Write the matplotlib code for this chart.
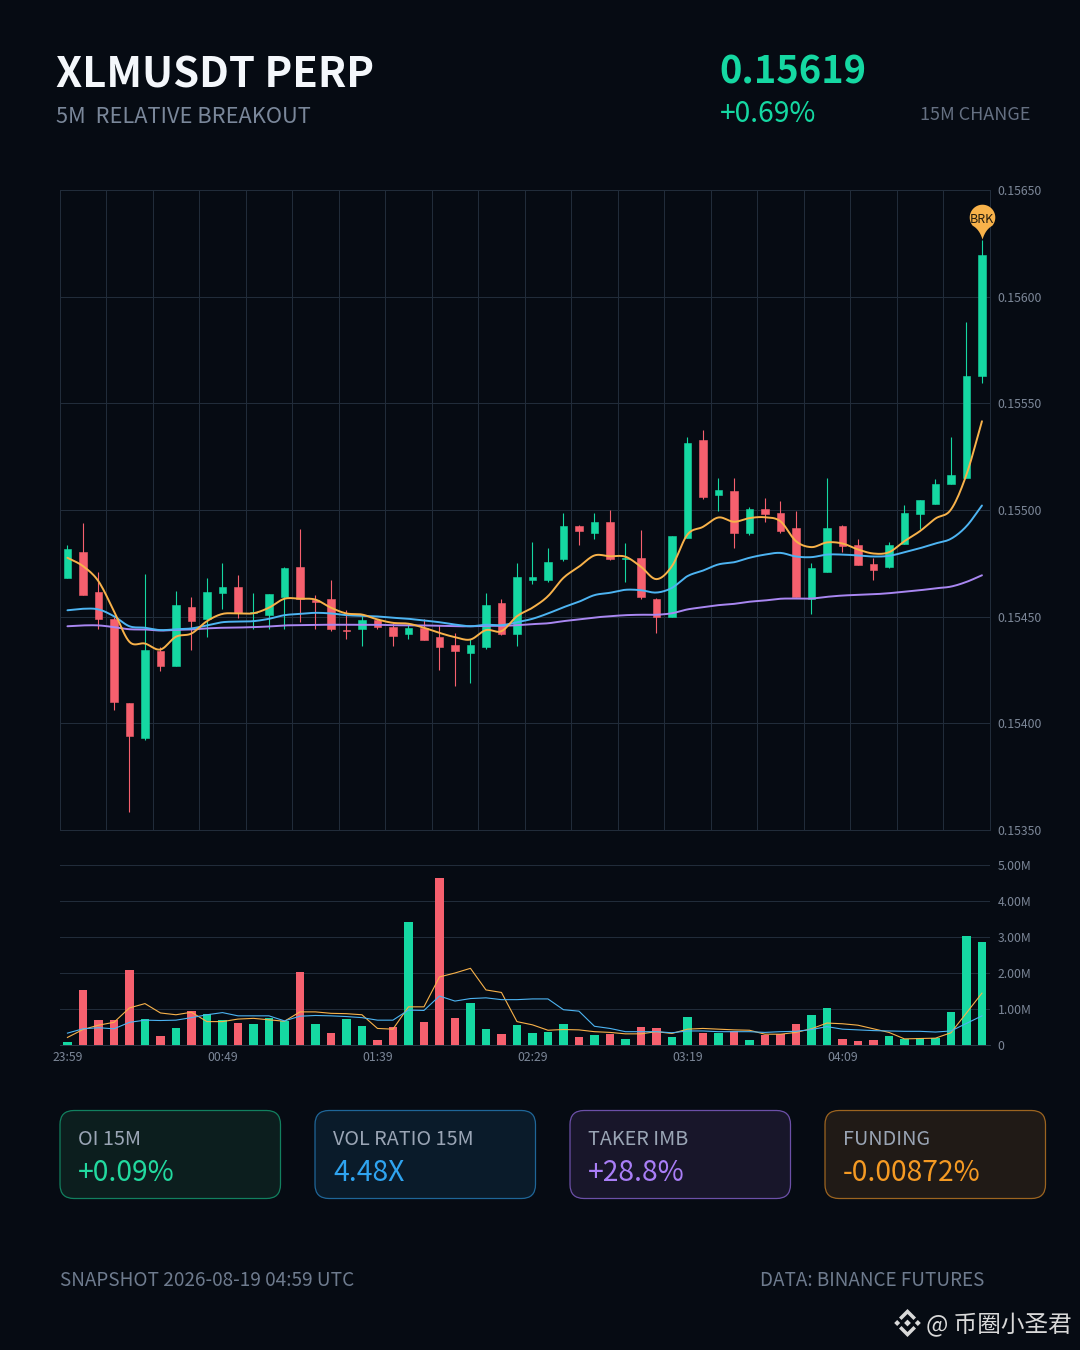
import numpy as np
import matplotlib
matplotlib.use("Agg")
import matplotlib.pyplot as plt
from matplotlib.patches import FancyBboxPatch, Polygon
from matplotlib.path import Path

plt.rcParams['font.family'] = ['Noto Sans CJK SC', 'DejaVu Sans']

# --- data (prices in units of 1e-5, volume in millions) ---
time_labels = ["23:59", "00:49", "01:39", "02:29", "03:19", "04:09"]
price_ticks = [0.1535, 0.1540, 0.1545, 0.1550, 0.1555, 0.1560, 0.1565]
vol_ticks = [0, 1, 2, 3, 4, 5]
vol_tick_labels = ["0", "1.00M", "2.00M", "3.00M", "4.00M", "5.00M"]

opens = [15468, 15480.5, 15461.5, 15448.7, 15409.6, 15393, 15433.7, 15427, 15454.6, 15449,
         15461, 15463.7, 15451.5, 15451, 15459, 15473.5, 15458, 15458.5, 15443.8, 15444,
         15448.5, 15445, 15442, 15444.5, 15440.4, 15436.5, 15433, 15436, 15456.6, 15442,
         15467, 15467, 15476.8, 15492.6, 15489, 15494.6, 15476.8, 15477.6, 15458.5, 15450,
         15487.1, 15532.6, 15506.8, 15508.7, 15489, 15500.6, 15498.5, 15491.5, 15458.2, 15471,
         15492.6, 15483.4, 15474.5, 15473.2, 15484.2, 15498, 15503, 15512.1, 15515.1, 15563]
highs = [15483.4, 15494, 15471, 15450, 15409.6, 15470, 15436, 15462, 15459.3, 15468,
         15475, 15469.3, 15461.2, 15460.8, 15473.4, 15491.2, 15460.2, 15467.3, 15453.2, 15450.2,
         15449, 15447, 15446.5, 15449, 15446.2, 15442.2, 15439.3, 15461.3, 15458.4, 15475,
         15485.2, 15482.3, 15498.4, 15493, 15498.4, 15500.2, 15484.3, 15490.4, 15458.6, 15487.6,
         15534.3, 15537.3, 15515.2, 15515.2, 15501.2, 15505.4, 15504.3, 15499.3, 15475, 15515.2,
         15493, 15486.2, 15477.3, 15485.2, 15502.2, 15504.5, 15514.3, 15534.3, 15588.2, 15626.5]
lows = [15468, 15460, 15444, 15406.3, 15358.3, 15392.3, 15424.4, 15427, 15434.3, 15440.4,
        15453.4, 15449.3, 15444, 15444, 15444, 15447.4, 15444, 15443.2, 15439.3, 15436.3,
        15444, 15436.3, 15439.3, 15439, 15425.2, 15417.3, 15419, 15435, 15441.3, 15436.2,
        15465.2, 15466.2, 15476.2, 15483.4, 15486.2, 15476.5, 15466.2, 15458.2, 15442.2, 15450,
        15487, 15505.3, 15499.3, 15482.3, 15488.2, 15494.3, 15489, 15459, 15451.2, 15471,
        15480.2, 15474, 15467.1, 15473, 15484, 15491.3, 15503, 15512, 15515, 15559.3]
closes = [15481.5, 15460, 15449, 15410, 15394, 15434.5, 15427, 15455.6, 15448, 15461.5,
          15463.7, 15451.8, 15452.4, 15460.5, 15472.6, 15458.4, 15457, 15444, 15443.2, 15448.5,
          15445, 15441, 15444.5, 15439, 15436, 15434, 15436.5, 15455.6, 15442, 15468.5,
          15468.5, 15475.5, 15492.6, 15490, 15494.6, 15476.8, 15477.4, 15459, 15450, 15487.6,
          15531.5, 15506, 15509.6, 15489, 15500.6, 15497.9, 15490, 15459, 15472.6, 15491.7,
          15482.9, 15474.1, 15472.1, 15483.4, 15498.4, 15504.5, 15512.4, 15516.5, 15562.6, 15619.6]

ma_fast = [15477.6, 15473.7, 15466.6, 15452.6, 15438.2, 15437.4, 15434.6, 15440.6, 15442.1, 15447.9,
           15451.3, 15451.5, 15451.6, 15454.2, 15458.4, 15458.4, 15458, 15454.2, 15451.5, 15451,
           15448.7, 15447.1, 15446.7, 15444.8, 15442.4, 15440.4, 15439.3, 15443.7, 15443.2, 15450.2,
           15454.2, 15459.6, 15468.2, 15473.4, 15478.7, 15478.3, 15478.1, 15473.4, 15467.6, 15473.7,
           15488.5, 15492.1, 15496.5, 15494.5, 15496.2, 15496.6, 15494.7, 15485.4, 15482.6, 15484.8,
           15484.3, 15481.5, 15479.6, 15480.2, 15485.4, 15490.1, 15496, 15500.2, 15516.6, 15541.6]
ma_mid = [15453, 15453.7, 15453.4, 15450.2, 15445.5, 15444.8, 15443.7, 15444.1, 15444.5, 15445.9,
          15447.4, 15447.7, 15447.9, 15449, 15450.7, 15451.3, 15451.8, 15451.5, 15450.7, 15450.4,
          15450.1, 15449.5, 15449, 15448.2, 15447.4, 15446.3, 15445.5, 15446.2, 15446, 15447.4,
          15449, 15451.5, 15454.4, 15457, 15460.1, 15461.2, 15462.6, 15462.4, 15461.3, 15463.5,
          15469, 15471.6, 15474.5, 15475.5, 15477.6, 15479.1, 15479.9, 15478.2, 15477.9, 15479.1,
          15479.1, 15478.7, 15478.2, 15478.5, 15480.2, 15482.1, 15484.3, 15486.5, 15492.4, 15502.1]
ma_slow = [15445.5, 15445.9, 15445.9, 15445.1, 15444.1, 15444, 15443.5, 15443.8, 15444, 15444.5,
           15444.8, 15444.9, 15445.1, 15445.4, 15445.9, 15446, 15446.2, 15446.2, 15446.2, 15446.2,
           15446.2, 15446, 15446, 15445.9, 15445.7, 15445.5, 15445.5, 15445.7, 15445.7, 15446,
           15446.5, 15446.9, 15447.9, 15448.7, 15449.6, 15450.2, 15450.7, 15450.9, 15450.9, 15451.6,
           15453.4, 15454.4, 15455.4, 15456, 15457, 15457.6, 15458.4, 15458.5, 15458.5, 15459.3,
           15459.9, 15460.2, 15460.5, 15461, 15461.7, 15462.4, 15463.3, 15464.1, 15466.3, 15469.4]

volumes = [0.09, 1.53, 0.69, 0.69, 2.08, 0.73, 0.24, 0.46, 0.95, 0.87,
           0.69, 0.61, 0.57, 0.74, 0.67, 2.02, 0.59, 0.34, 0.71, 0.53,
           0.15, 0.50, 3.41, 0.64, 4.64, 0.76, 1.17, 0.44, 0.31, 0.56,
           0.34, 0.37, 0.57, 0.23, 0.29, 0.31, 0.18, 0.49, 0.47, 0.22,
           0.78, 0.34, 0.32, 0.40, 0.15, 0.29, 0.31, 0.58, 0.84, 1.03,
           0.17, 0.12, 0.13, 0.26, 0.18, 0.20, 0.20, 0.92, 3.02, 2.87]
vol_up = "GRRRRGRGRGGRGGGRGRGGRRGRRRGGRGGGGRGRGRRGGRGRGRRRGGRRRGGGGGGG"
vol_ma_fast = [0.21, 0.43, 0.55, 0.63, 1.03, 1.15, 0.89, 0.84, 0.91, 0.65,
               0.65, 0.72, 0.74, 0.70, 0.66, 0.92, 0.92, 0.88, 0.87, 0.84,
               0.46, 0.44, 1.06, 1.06, 1.89, 2.00, 2.13, 1.53, 1.46, 0.65,
               0.56, 0.41, 0.43, 0.42, 0.37, 0.35, 0.31, 0.31, 0.37, 0.32,
               0.44, 0.46, 0.44, 0.42, 0.41, 0.30, 0.30, 0.35, 0.45, 0.61,
               0.59, 0.55, 0.45, 0.35, 0.17, 0.18, 0.19, 0.34, 0.89, 1.44]
vol_ma_slow = [0.33, 0.45, 0.48, 0.45, 0.63, 0.69, 0.68, 0.69, 0.76, 0.84,
               0.90, 0.81, 0.81, 0.81, 0.67, 0.80, 0.82, 0.81, 0.79, 0.76,
               0.69, 0.69, 0.97, 0.96, 1.36, 1.22, 1.29, 1.31, 1.26, 1.26,
               1.28, 1.28, 0.98, 0.94, 0.52, 0.46, 0.37, 0.37, 0.37, 0.34,
               0.39, 0.39, 0.37, 0.37, 0.37, 0.35, 0.37, 0.38, 0.43, 0.51,
               0.44, 0.42, 0.40, 0.39, 0.38, 0.38, 0.36, 0.39, 0.60, 0.81]

stat_labels = ["OI 15M", "VOL RATIO 15M", "TAKER IMB", "FUNDING"]
stat_values = ["+0.09%", "4.48X", "+28.8%", "-0.00872%"]

# --- styles ---
BG = "#060B13"
GREEN = "#15D8A2"
RED = "#F6606E"
ORANGE = "#F8B24A"
BLUE = "#4DB4F2"
PURPLE = "#A987F2"
GRID = "#212C3A"
TICK = "#7C8798"


def fs(px):
    return px * 0.72


def smooth(y, n=10):
    """Catmull-Rom curve through the points."""
    y = np.asarray(y, float)
    p = np.r_[2 * y[0] - y[1], y, 2 * y[-1] - y[-2]]
    t = np.linspace(0, 1, n, endpoint=False)[:, None]
    p0, p1, p2, p3 = p[:-3], p[1:-2], p[2:-1], p[3:]
    c = 0.5 * (2 * p1 + (p2 - p0) * t + (2 * p0 - 5 * p1 + 4 * p2 - p3) * t ** 2
               + (3 * p1 - p0 - 3 * p2 + p3) * t ** 3)
    ys = np.r_[c.T.ravel(), y[-1]]
    xs = np.linspace(0, len(y) - 1, len(ys))
    return xs, ys


fig = plt.figure(figsize=(10.8, 13.5), dpi=100, facecolor=BG)
W, H = 1080, 1350


def add_ax(l, t, r, b):
    return fig.add_axes([l / W, 1 - b / H, (r - l) / W, (b - t) / H], facecolor="none")


# full-figure pixel layer for header, cards, footer
pix = fig.add_axes([0, 0, 1, 1], facecolor="none")
pix.set_xlim(0, W)
pix.set_ylim(H, 0)
pix.axis("off")

pix.text(56, 87, "XLMUSDT PERP", color="#F4F7FB", fontsize=fs(41.8), fontweight="bold", va="baseline")
pix.text(56, 123, "5M  RELATIVE BREAKOUT", color="#7A879A", fontsize=fs(21.8), va="baseline")
pix.text(719, 84, "0.15619", color=GREEN, fontsize=fs(38), fontweight="bold", va="baseline")
pix.text(720, 122, "+0.69%", color=GREEN, fontsize=fs(28.2), va="baseline")
pix.text(920, 120, "15M CHANGE", color="#657082", fontsize=fs(18), va="baseline")

card_x = [60, 315, 570, 825]
card_bg = ["#0C1E1E", "#0A1B2A", "#18162A", "#201A16"]
card_edge = ["#12805F", "#1F6698", "#6C50A8", "#9C6420"]
card_val = ["#22D99F", "#2FA4F0", "#A97EF7", "#F59A23"]
for x0, bg, ed, cv, lb, vl in zip(card_x, card_bg, card_edge, card_val, stat_labels, stat_values):
    pix.add_patch(FancyBboxPatch((x0 + 14, 1110.5 + 14), 220.5 - 28, 88 - 28,
                                 boxstyle="round,pad=14,rounding_size=14",
                                 fc=bg, ec=ed, lw=0.9))
    pix.text(x0 + 18, 1145, lb, color="#9AA5B5", fontsize=fs(19.8), va="baseline")
    pix.text(x0 + 18, 1181, vl, color=cv, fontsize=fs(28.3), va="baseline")

pix.text(60, 1286, "SNAPSHOT 2026-08-19 04:59 UTC", color="#6E7B8E", fontsize=fs(19), va="baseline")
pix.text(760, 1286, "DATA: BINANCE FUTURES", color="#6E7B8E", fontsize=fs(18.9), va="baseline")

# watermark logo
lc, ly = 907.5, 1323
WM = "#D9D9D9"
for poly in (
    [(0, -3.4), (3.4, 0), (0, 3.4), (-3.4, 0)],
    [(-10.3, -3), (-7.3, 0), (-10.3, 3), (-13.3, 0)],
    [(10.3, -3), (13.3, 0), (10.3, 3), (7.3, 0)],
    [(0, -14), (8.5, -5.5), (6, -3), (0, -9), (-6, -3), (-8.5, -5.5)],
    [(0, 14), (8.5, 5.5), (6, 3), (0, 9), (-6, 3), (-8.5, 5.5)],
):
    pix.add_patch(Polygon([(lc + a, ly + b) for a, b in poly], fc=WM, ec="none"))
pix.text(926.5, 1332, "@ 币圈小圣君", color=WM, fontsize=fs(23.6), va="baseline")

# --- price panel ---
ax = add_ax(59.7, 190, 989.7, 830)
x = np.arange(len(opens))
o, h, l, c = [np.array(v) / 1e5 for v in (opens, highs, lows, closes)]
up = c >= o
col = np.where(up, GREEN, RED)
ax.vlines(x, l, h, colors=col, lw=0.8, zorder=3, snap=True)
ax.bar(x, np.abs(c - o), bottom=np.minimum(o, c), width=0.5, color=col, edgecolor=col, lw=0.4, zorder=3)
for series, color in ((ma_slow, PURPLE), (ma_mid, BLUE), (ma_fast, ORANGE)):
    xs, ys = smooth(series)
    ax.plot(xs, ys / 1e5, color=color, lw=1.4, zorder=4, solid_capstyle="round")
ax.set_xlim(-0.5, 59.5)
ax.set_ylim(0.1535, 0.1565)
ax.set_xticks(np.arange(-0.5, 60, 3))
ax.set_xticklabels([])
ax.set_yticks(price_ticks)
ax.set_yticklabels([f"{v:.5f}" for v in price_ticks])
ax.yaxis.tick_right()
ax.tick_params(axis="both", length=0, labelsize=fs(12.2), labelcolor=TICK)
ax.tick_params(axis="y", pad=fs(8))
ax.grid(True, color=GRID, lw=0.72, zorder=0)
ax.set_axisbelow(True)
for s in ax.spines.values():
    s.set_color(GRID)
    s.set_linewidth(0.72)

# breakout pin, tip at the last candle's high
R = 12.8
ang = np.radians(np.linspace(-40, 220, 60))
cx, cy = R * np.cos(ang), 22 + R * np.sin(ang)
t = np.linspace(0, 1, 10)[:, None]
a0, a1 = np.array([cx[-1], cy[-1]]), np.array([cx[0], cy[0]])
ctrl_l, ctrl_r = np.array([-3.0, 10.0]), np.array([3.0, 10.0])
tip = np.array([0.0, 0.0])
left = (1 - t) ** 2 * a0 + 2 * t * (1 - t) * ctrl_l + t ** 2 * tip
right = (1 - t) ** 2 * tip + 2 * t * (1 - t) * ctrl_r + t ** 2 * a1
verts = np.vstack([np.c_[cx, cy], left, right])
pin = Path(np.vstack([verts, verts[0]]), closed=True)
scale = np.abs(pin.vertices).max()
ax.plot([x[-1]], [h[-1] + 0.000006], marker=pin, ms=2 * scale * 0.72, mfc=ORANGE, mec="none",
        ls="none", clip_on=False, zorder=6)
ax.annotate("BRK", (x[-1], h[-1] + 0.000006), xytext=(0, 19 * 0.72), textcoords="offset points",
            ha="center", va="center", color="#241C0E", fontsize=fs(12.5), zorder=7, annotation_clip=False)

# --- volume panel ---
av = add_ax(59.7, 865, 989.7, 1045)
v_col = [GREEN if k == "G" else RED for k in vol_up]
av.bar(x, volumes, width=0.56, color=v_col, zorder=3)
av.plot(x, vol_ma_fast, color=ORANGE, lw=0.8, zorder=4)
av.plot(x, vol_ma_slow, color=BLUE, lw=0.8, zorder=4)
av.set_xlim(-0.5, 59.5)
av.set_ylim(0, 5)
av.set_xticks(np.arange(0, 60, 10))
av.set_xticklabels(time_labels)
av.set_yticks(vol_ticks)
av.set_yticklabels(vol_tick_labels)
av.yaxis.tick_right()
av.tick_params(axis="both", length=0, labelsize=fs(12.2), labelcolor=TICK)
av.tick_params(axis="y", pad=fs(8))
av.tick_params(axis="x", pad=fs(6))
av.grid(True, axis="y", color=GRID, lw=0.72, zorder=0)
av.set_axisbelow(True)
for k, s in av.spines.items():
    s.set_visible(k == "bottom")
    s.set_color("#2A3644")
    s.set_linewidth(0.72)

fig.savefig("out.png", dpi=100, facecolor=BG)
